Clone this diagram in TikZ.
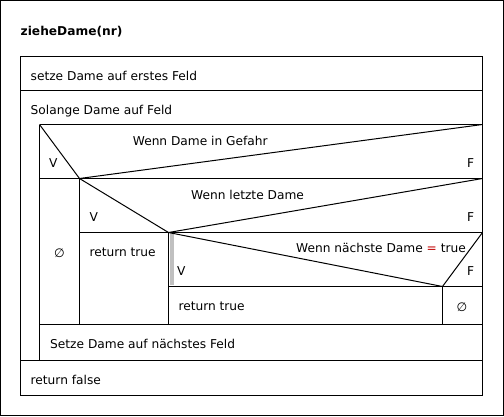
\documentclass[tikz,border=0pt]{standalone}
\usepackage{fontspec}
\setmainfont{DejaVu Sans}
\definecolor{eqred}{RGB}{192,0,0}
\definecolor{barGray}{RGB}{192,192,192}
\tikzset{
  ln/.style={line width=1pt, draw=black},
  txt/.style={anchor=base west, inner sep=0pt, font=\fontsize{12.2}{14}\selectfont},
  ctxt/.style={anchor=center, inner sep=0pt, font=\fontsize{12.2}{14}\selectfont},
}
\begin{document}
\begin{tikzpicture}[x=1pt,y=-1pt]
\useasboundingbox (0,0) rectangle (504,416);
% key coordinates
\coordinate (L) at (20.5,56.5);
\coordinate (R) at (482.5,395.5);
\coordinate (i1tl) at (39.5,124.5);
\coordinate (i1tr) at (482.5,124.5);
\coordinate (i1m) at (79.5,178.5);
\coordinate (i1br) at (482.5,178.5);
\coordinate (i2m) at (168.5,232.5);
\coordinate (i2br) at (482.5,232.5);
\coordinate (i3m) at (442.5,286.5);
\coordinate (i3br) at (482.5,286.5);
% outer frame
\draw[ln] (0.5,0.5) rectangle (503.5,415.5);
\node[txt, font=\fontsize{12.2}{14}\selectfont\bfseries] (title) at (20.5,35) {zieheDame(nr)};
% main block
\draw[ln] (L) rectangle (R);
\draw[ln] (20.5,90.5) -- (482.5,90.5);
\draw[ln] (i1tl) -- (i1tr);
\draw[ln] (i1tl) -- (39.5,360.5);
\draw[ln] (39.5,324.5) -- (482.5,324.5);
\draw[ln] (20.5,360.5) -- (482.5,360.5);
% if 1
\draw[ln] (39.5,178.5) -- (i1br);
\draw[ln] (i1tl) -- (i1m) -- (i1tr);
\draw[ln] (i1m) -- (79.5,324.5);
% if 2
\draw[ln] (i1m) -- (i2m) -- (i1br);
\draw[ln] (79.5,232.5) -- (i2br);
\draw[ln] (i2m) -- (168.5,324.5);
% if 3
\fill[barGray] (170,233) rectangle (174,285);
\draw[ln] (i2m) -- (i3m) -- (i2br);
\draw[ln] (168.5,286.5) -- (i3br);
\draw[ln] (i3m) -- (442.5,324.5);
% texts
\node[txt] (s1) at (30.5,80) {setze Dame auf erstes Feld};
\node[txt] (loop) at (30.5,114) {Solange Dame auf Feld};
\node[txt] (c1) at (132.7,145) {Wenn Dame in Gefahr};
\node[txt] (v1) at (49,167) {V};
\node[txt] (f1) at (467,167) {F};
\node[ctxt] (e1) at (59.5,253) {∅};
\node[txt] (c2) at (191,199) {Wenn letzte Dame};
\node[txt] (v2) at (89.5,221) {V};
\node[txt] (f2) at (467,221) {F};
\node[txt] (r1) at (89.3,256) {return true};
\node[anchor=base east, inner sep=0pt, font=\fontsize{12.2}{14}\selectfont] (c3) at (466,252) {Wenn nächste Dame \textcolor{eqred}{=} true};
\node[txt] (v3) at (177,275) {V};
\node[txt] (f3) at (467,275) {F};
\node[txt] (r2) at (178.3,310.5) {return true};
\node[ctxt] (e2) at (462,307) {∅};
\node[txt] (s2) at (50,348.5) {Setze Dame auf nächstes Feld};
\node[txt] (rf) at (30.5,384.5) {return false};
\end{tikzpicture}
\end{document}
